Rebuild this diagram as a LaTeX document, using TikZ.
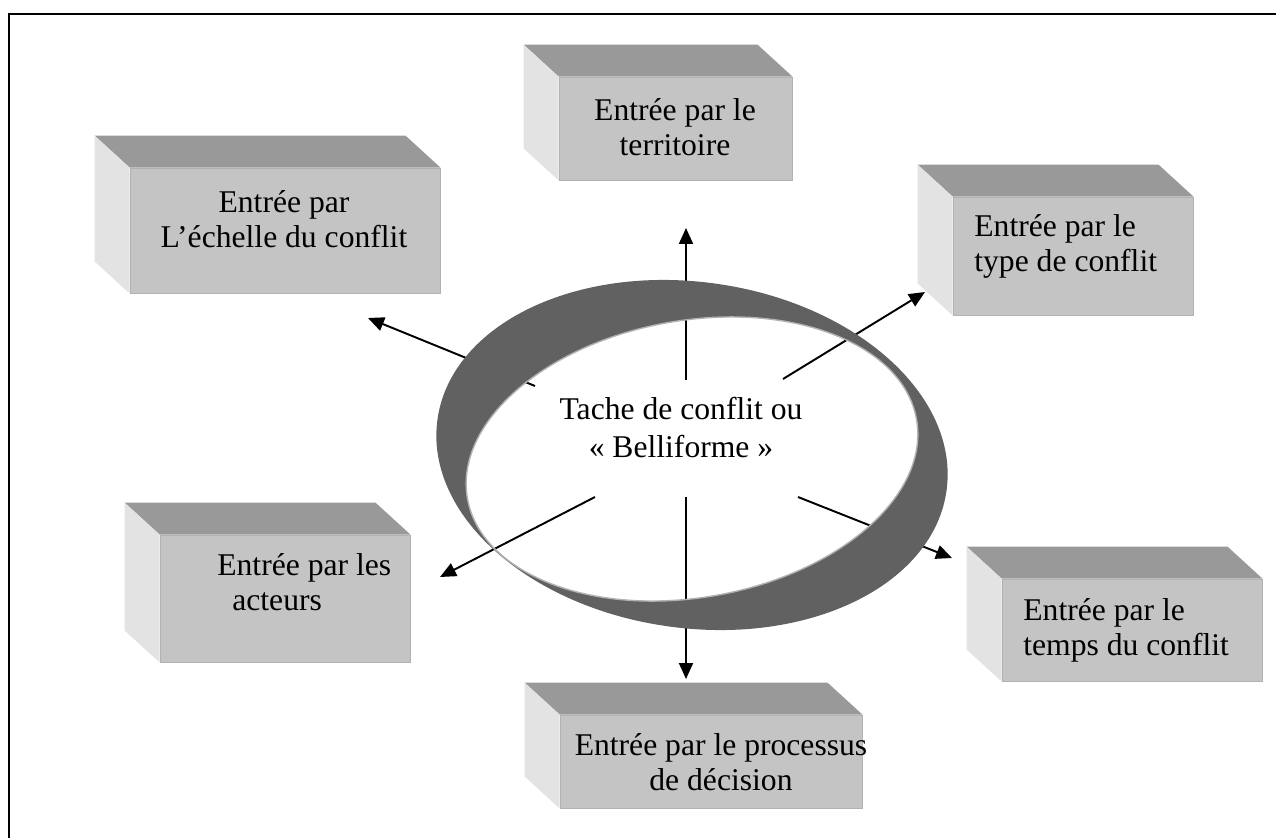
\documentclass[tikz,border=0pt]{standalone}
\usepackage{fontspec}
\setmainfont{Liberation Serif}
\usetikzlibrary{arrows.meta, positioning, calc}
\tikzset{
  face/.style={rectangle, fill=black!23, draw=black!30, line width=0.5pt, inner sep=0pt},
  topf/.style={fill=black!40},
  sidef/.style={fill=black!11},
  lab/.style={font=\fontsize{18}{20}\selectfont, inner sep=0pt},
  arr/.style={-{Triangle[length=3.2mm, width=2.8mm]}, line width=1.1pt},
  band/.style={fill=black!62, even odd rule}
}
\newcommand{\boxsides}[1]{%
  \fill[topf] (#1.north west) -- ++(-0.7,0.64) -- ($(#1.north east)+(-0.7,0.64)$) -- (#1.north east) -- cycle;
  \fill[sidef] (#1.north west) -- ++(-0.7,0.64) -- ($(#1.south west)+(-0.7,0.64)$) -- (#1.south west) -- cycle;}

\begin{document}
\begin{tikzpicture}
		\useasboundingbox (0,0) rectangle (25.52,16.76);
		\draw[line width=1.1pt] (0.18,0) -- (0.18,16.48) -- (25.52,16.48);
		% boxes
		\node[face, minimum width=6.2cm, minimum height=2.5cm] (ech) at (5.70,12.15) {};
		\node[face, minimum width=4.66cm, minimum height=2.06cm] (ter) at (13.51,14.19) {};
		\node[face, minimum width=4.8cm, minimum height=2.36cm] (typ) at (21.46,11.64) {};
		\node[face, minimum width=5.0cm, minimum height=2.54cm] (act) at (5.70,4.79) {};
		\node[face, minimum width=5.2cm, minimum height=2.04cm] (tmp) at (22.64,4.16) {};
		\node[face, minimum width=6.04cm, minimum height=1.86cm] (dec) at (14.22,1.53) {};
		\foreach \b in {ech,ter,typ,act,tmp,dec}{\boxsides{\b}}
		\node[lab, align=center] (ech-t) at (5.68,12.37) {Entrée par\\L’échelle du conflit};
		\node[lab, align=center] (ter-t) at (13.50,14.21) {Entrée par le\\territoire};
		\node[lab, align=left, anchor=west] (typ-t) at (19.48,11.83) {Entrée par le\\type de conflit};
		\node[lab, align=left, anchor=west] (act-t) at (4.34,5.11) {Entrée par les\\\hspace*{0.3cm}acteurs};
		\node[lab, align=left, anchor=west] (tmp-t) at (20.46,4.16) {Entrée par le\\temps du conflit};
		\node[lab, align=center] (dec-t) at (14.42,1.51) {Entrée par le processus\\de décision};
		% arrows
		\coordinate (s1) at (13.72,9.16);  \coordinate (e1) at (13.72,12.20);
		\coordinate (s2) at (13.72,6.82);  \coordinate (e2) at (13.72,3.18);
		\coordinate (s3) at (10.70,9.04);  \coordinate (e3) at (7.36,10.40);
		\coordinate (s4) at (11.90,6.82);  \coordinate (e4) at (8.80,5.22);
		\coordinate (s5) at (15.66,9.18);  \coordinate (e5) at (18.50,10.92);
		\coordinate (s6) at (15.96,6.82);  \coordinate (e6) at (19.04,5.60);
		\foreach \i in {1,...,6}{\draw[arr] (s\i) -- (e\i);}
		% ring
		\fill[band] (13.84,7.66) ellipse [x radius=5.14, y radius=3.46, rotate=-8]
		            (13.84,7.58) ellipse [x radius=4.56, y radius=2.77, rotate=10];
		\draw[black!30, line width=0.8pt] (13.84,7.58) ellipse [x radius=4.56, y radius=2.77, rotate=10];
		\node[lab, align=center, font=\fontsize{18}{22}\selectfont] (bel) at (13.62,8.21) {Tache de conflit ou\\« Belliforme »};
	\end{tikzpicture}
\end{document}
